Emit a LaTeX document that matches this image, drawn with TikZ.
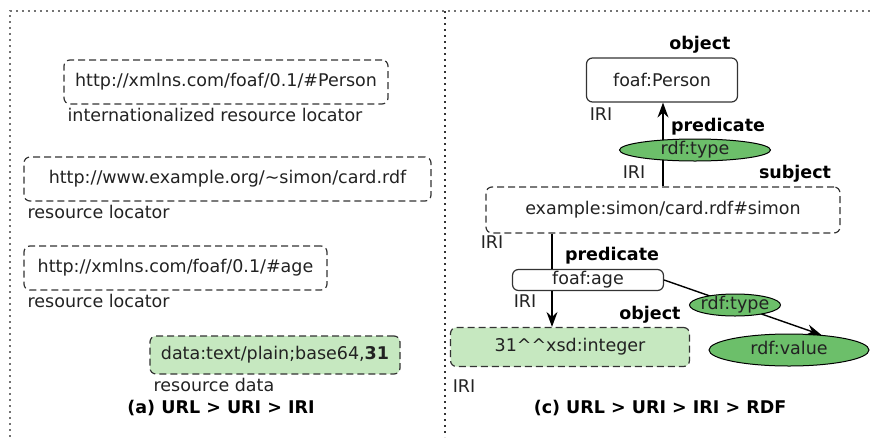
\documentclass[tikz,border=0pt]{standalone}
\usepackage{fontspec}
\setmainfont{DejaVu Sans}
\usetikzlibrary{arrows.meta,positioning,shapes.geometric}
\definecolor{litgreen}{HTML}{C6E8C0}
\definecolor{ellgreen}{HTML}{6CBF6A}
\definecolor{ink}{HTML}{222222}
\newcommand{\basesize}{\fontsize{17.5}{20}\selectfont}
% text of an ellipse, which may run over its border
\newcommand{\elltext}[1]{\makebox[0pt]{\raisebox{-0.5ex}[0pt][0pt]{#1}}}
\tikzset{
  box/.style={draw=black!80, line width=1.2pt, rounded corners=6pt,
              inner sep=0pt, text=ink},
  uri/.style={box, dash pattern=on 7pt off 4pt},
  lit/.style={uri, fill=litgreen},
  ell/.style={ellipse, draw=black, line width=1pt, fill=ellgreen,
              inner sep=0pt, text=ink},
  lbl/.style={inner sep=0pt, text=ink},
  role/.style={inner sep=0pt, font=\basesize\bfseries, text=black},
  arr/.style={line width=1.4pt, -{Stealth[length=15pt,width=11pt,inset=5pt]}},
  frame/.style={line width=1.6pt, dash pattern=on 1.6pt off 4.4pt},
}

\begin{document}
\begin{tikzpicture}[x=1pt,y=-1pt,font=\basesize]
  \useasboundingbox (0,0) rectangle (870,437);

  % frames
  \draw[frame, black!55] (10,437) -- (10,11) -- (870,11);
  \draw[frame, black!80] (445,11) -- (445,437);

  % (a) left panel
  \node[uri, minimum width=324pt, minimum height=44pt] (person) at (226,82)
       {http://xmlns.com/foaf/0.1/\#Person};
  \node[uri, minimum width=407pt, minimum height=44pt] (card) at (227.5,179)
       {http://www.example.org/\char`~simon/card.rdf};
  \node[uri, minimum width=303pt, minimum height=44pt] (age) at (175.5,268)
       {http://xmlns.com/foaf/0.1/\#age};
  \node[lit, minimum width=250pt, minimum height=38pt] (data) at (275,355)
       {data:text/plain;base64,\textbf{31}};

  \node[lbl, anchor=north west] (personlbl) at ([xshift=4pt,yshift=-3pt]person.south west)
       {internationalized resource locator};
  \node[lbl, anchor=north west] (cardlbl) at ([xshift=4pt,yshift=-3pt]card.south west)
       {resource locator};
  \node[lbl, anchor=north west] (agelbl) at ([xshift=4pt,yshift=-3pt]age.south west)
       {resource locator};
  \node[lbl, anchor=north west] (datalbl) at ([xshift=4pt,yshift=-3pt]data.south west)
       {resource data};

  \node[role] (capa) at (221,408) {(a) URL > URI > IRI};

  % (c) right panel
  \node[box, minimum width=151pt, minimum height=44pt] (fperson) at (662,80) {foaf:Person};
  \node[uri, minimum width=354pt, minimum height=46pt] (subj) at (663,210)
       {example:simon/card.rdf\#simon};
  \node[box, minimum width=151pt, minimum height=21pt] (fage) at (588,280) {foaf:age};
  \node[lit, minimum width=239pt, minimum height=39pt] (int) at (570,347)
       {31\^{}\^{}xsd:integer};
  \node[ell, minimum width=160pt, minimum height=32pt] (value) at (789,350) {\elltext{rdf:value}};

  \coordinate (down) at (552,0);
  \draw[arr] (subj.north) -- (subj.north |- fperson.south);
  \draw[line width=1.4pt] (subj.south -| down) -- (fage.north -| down);
  \draw[arr] (fage.south -| down) -- (int.north -| down);
  \draw[arr] (fage.east) -- (value.25);

  \node[ell, minimum width=151pt, minimum height=22pt] (type) at (695,150) {\elltext{rdf:type}};
  \node[ell, minimum width=91pt, minimum height=22pt] (vtype) at (735,305) {\elltext{rdf:type}};

  \node[role] (objtop) at (700,45) {object};
  \node[role] (predtop) at (718,127) {predicate};
  \node[role] (subjlbl) at (795,174) {subject};
  \node[role] (predlow) at (612,256) {predicate};
  \node[role] (objlow) at (650,315) {object};

  \node[lbl] (iri1) at (601,114) {IRI};
  \node[lbl] (iri2) at (634,172) {IRI};
  \node[lbl] (iri3) at (492,242) {IRI};
  \node[lbl] (iri4) at (525,301) {IRI};
  \node[lbl] (iri5) at (464,386) {IRI};

  \node[role] (capc) at (660,408) {(c) URL > URI > IRI > RDF};
\end{tikzpicture}
\end{document}
